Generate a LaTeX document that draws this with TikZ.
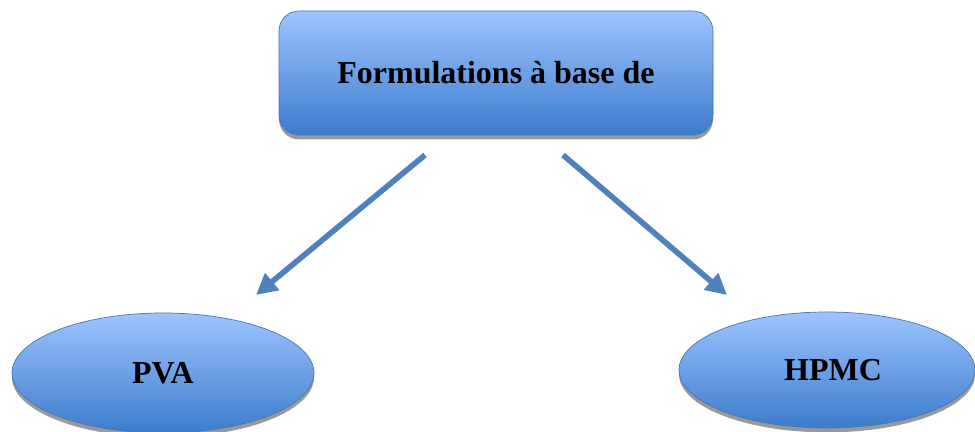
\documentclass[tikz,border=0pt]{standalone}
\usepackage{fontspec}
\setmainfont{Liberation Serif}
\usepackage{tikz}
\usetikzlibrary{shapes.geometric, arrows.meta, positioning, shadows}

\definecolor{boxtop}{RGB}{158,196,255}
\definecolor{boxbottom}{RGB}{60,124,204}
\definecolor{boxline}{RGB}{70,120,180}
\definecolor{arrowblue}{RGB}{79,129,189}

\begin{document}
\begin{tikzpicture}[
    blue box/.style={top color=boxtop, bottom color=boxbottom, draw=boxline, thin,
        drop shadow={shadow xshift=0pt, shadow yshift=-2.5pt, fill=gray!80, opacity=1},
        font=\bfseries\fontsize{18.2}{22}\selectfont},
    link/.style={-{Triangle[width=12pt, length=12pt]}, line width=3.2pt, arrowblue}
]
    \useasboundingbox (0,0) rectangle (19.5,-8.64);

    % Top box
    \node[blue box, rectangle, rounded corners=0.4cm, minimum width=8.68cm, minimum height=2.48cm]
        (form) at (9.92,-1.46) {Formulations à base de};

    % Polymers
    \node[blue box, ellipse, minimum width=6.04cm, minimum height=2.4cm] (pva) at (3.26,-7.46) {PVA};
    \node[blue box, ellipse, minimum width=5.92cm, minimum height=2.32cm, text depth=0pt] (hpmc) at (16.54,-7.40) {\hspace{0.24cm}HPMC};

    % Arrow ends
    \coordinate (pvastart) at (8.5,-3.1);
    \coordinate (pvaend) at (5.12,-5.9);
    \coordinate (hpmcstart) at (11.26,-3.1);
    \coordinate (hpmcend) at (14.54,-5.9);

    \draw[link] (pvastart) -- (pvaend);
    \draw[link] (hpmcstart) -- (hpmcend);
\end{tikzpicture}
\end{document}
